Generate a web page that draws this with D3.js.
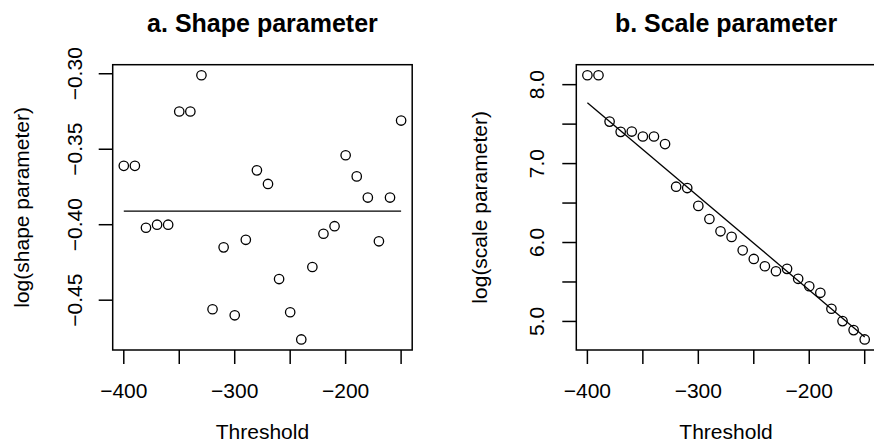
<!DOCTYPE html>
<html>
<head>
<meta charset="utf-8">
<script src="https://cdn.jsdelivr.net/npm/d3@7"></script>
<style>
  body { margin: 0; background: #fff; }
  text { font-family: "Liberation Sans", Arial, Helvetica, sans-serif; fill: #000; }
</style>
</head>
<body>
<div id="chart"></div>
<script>
// Threshold values shared by both panels
const thresholds = [-400, -390, -380, -370, -360, -350, -340, -330, -320, -310, -300, -290, -280,
                    -270, -260, -250, -240, -230, -220, -210, -200, -190, -180, -170, -160, -150];

// a. log(shape parameter) at each threshold
const shapeLog = [-0.361, -0.361, -0.402, -0.400, -0.400, -0.325, -0.325, -0.301, -0.456, -0.415,
                  -0.460, -0.410, -0.364, -0.373, -0.436, -0.458, -0.476, -0.428, -0.406, -0.401,
                  -0.354, -0.368, -0.382, -0.411, -0.382, -0.331];
const shapeFit = [-0.391, -0.391];   // flat line, value at first / last threshold

// b. log(scale parameter) at each threshold
const scaleLog = [8.119, 8.119, 7.532, 7.402, 7.406, 7.343, 7.343, 7.247, 6.707, 6.690,
                  6.464, 6.298, 6.142, 6.071, 5.901, 5.792, 5.699, 5.636, 5.666, 5.540,
                  5.446, 5.363, 5.161, 5.004, 4.890, 4.772];
const scaleFit = [7.772, 4.803];     // fitted line at first / last threshold

// axis ticks and which of them get a label
const xTicks = [-400, -350, -300, -250, -200, -150];
const xLabels = [-400, -300, -200];
const shapeTicks = [-0.30, -0.35, -0.40, -0.45];
const shapeLabels = [-0.30, -0.35, -0.40, -0.45];
const scaleTicks = [8.0, 7.5, 7.0, 6.5, 6.0, 5.5, 5.0];
const scaleLabels = [8.0, 7.0, 6.0, 5.0];

const W = 874, H = 444;
const svg = d3.select('#chart').append('svg')
  .attr('width', W).attr('height', H);

// R style range: data extent padded by 4% on each side
function padded(values) {
  const [lo, hi] = d3.extent(values);
  const p = (hi - lo) * 0.04;
  return [lo - p, hi + p];
}

function panel(opt) {
  const x = d3.scaleLinear().domain(padded(thresholds)).range([opt.left, opt.left + 299.5]);
  const y = d3.scaleLinear().domain(padded(opt.values)).range([350, 64.7]);
  const g = svg.append('g');

  // plot box
  g.append('rect')
    .attr('x', x.range()[0]).attr('y', y.range()[1])
    .attr('width', x.range()[1] - x.range()[0])
    .attr('height', y.range()[0] - y.range()[1])
    .attr('fill', 'none').attr('stroke', '#000').attr('stroke-width', 1.5);

  // x axis ticks + labels
  g.selectAll('.xt').data(xTicks).enter().append('line')
    .attr('x1', d => x(d)).attr('x2', d => x(d))
    .attr('y1', 350).attr('y2', 364)
    .attr('stroke', '#000').attr('stroke-width', 1.5);
  g.selectAll('.xl').data(xLabels).enter().append('text')
    .attr('x', d => x(d)).attr('y', 398)
    .attr('text-anchor', 'middle').attr('font-size', 21)
    .text(d => d3.format('d')(d));
  g.append('text')
    .attr('x', (x.range()[0] + x.range()[1]) / 2).attr('y', 439)
    .attr('text-anchor', 'middle').attr('font-size', 21)
    .text('Threshold');

  // y axis ticks + labels (rotated, like R's default)
  const x0 = x.range()[0];
  g.selectAll('.yt').data(opt.ticks).enter().append('line')
    .attr('x1', x0 - 14).attr('x2', x0)
    .attr('y1', d => y(d)).attr('y2', d => y(d))
    .attr('stroke', '#000').attr('stroke-width', 1.5);
  g.selectAll('.yl').data(opt.labels).enter().append('text')
    .attr('transform', d => `translate(${opt.labelX},${y(d)}) rotate(-90)`)
    .attr('text-anchor', 'middle').attr('font-size', 21)
    .text(d => d3.format(opt.fmt)(d));
  g.append('text')
    .attr('transform', `translate(${opt.titleX},${(y.range()[0] + y.range()[1]) / 2}) rotate(-90)`)
    .attr('text-anchor', 'middle').attr('font-size', 21)
    .text(opt.ylab);

  // main title
  g.append('text')
    .attr('x', (x.range()[0] + x.range()[1]) / 2).attr('y', 32)
    .attr('text-anchor', 'middle').attr('font-size', 25).attr('font-weight', 'bold')
    .text(opt.title);

  // fitted line
  const ends = [thresholds[0], thresholds[thresholds.length - 1]];
  g.append('line')
    .attr('x1', x(ends[0])).attr('y1', y(opt.fit[0]))
    .attr('x2', x(ends[1])).attr('y2', y(opt.fit[1]))
    .attr('stroke', '#000').attr('stroke-width', 1.3);

  // points
  g.selectAll('.pt').data(opt.values).enter().append('circle')
    .attr('cx', (d, i) => x(thresholds[i]))
    .attr('cy', d => y(d))
    .attr('r', 4.7)
    .attr('fill', 'none').attr('stroke', '#000').attr('stroke-width', 1.3);
}

panel({
  left: 112.7, values: shapeLog, fit: shapeFit,
  ticks: shapeTicks, labels: shapeLabels, fmt: '.2f',
  labelX: 82, titleX: 29,
  ylab: 'log(shape parameter)', title: 'a. Shape parameter'
});

panel({
  left: 576.3, values: scaleLog, fit: scaleFit,
  ticks: scaleTicks, labels: scaleLabels, fmt: '.1f',
  labelX: 544, titleX: 487,
  ylab: 'log(scale parameter)', title: 'b. Scale parameter'
});
</script>
</body>
</html>
